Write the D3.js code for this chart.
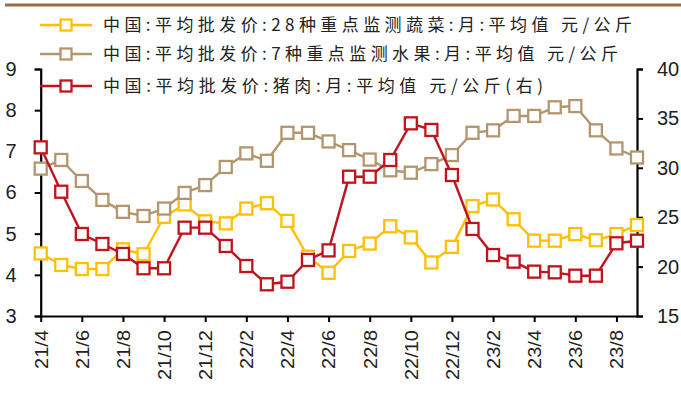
<!DOCTYPE html>
<html>
<head>
<meta charset="utf-8">
<script src="https://cdn.jsdelivr.net/npm/d3@7"></script>
<style>
  html, body { margin: 0; padding: 0; background: #fff; }
  svg { display: block; }
</style>
</head>
<body>
<svg id="chart" width="681" height="394"></svg>
<script>
// Monthly observations, 2021/4 – 2023/9
const months = ["21/4","21/5","21/6","21/7","21/8","21/9","21/10","21/11","21/12",
                "22/1","22/2","22/3","22/4","22/5","22/6","22/7","22/8","22/9","22/10","22/11","22/12",
                "23/1","23/2","23/3","23/4","23/5","23/6","23/7","23/8","23/9"];
const tickLabels = ["21/4","21/6","21/8","21/10","21/12","22/2","22/4","22/6","22/8","22/10","22/12","23/2","23/4","23/6","23/8"];

// 28 key vegetables, yuan/kg (left axis)
const vegetables = [4.52,4.24,4.14,4.14,4.62,4.50,5.41,5.71,5.30,5.25,5.61,5.74,5.31,4.44,4.05,
                    4.58,4.76,5.18,4.91,4.30,4.68,5.67,5.83,5.35,4.83,4.83,4.99,4.84,4.99,5.21];
// 7 key fruits, yuan/kg (left axis)
const fruits = [6.58,6.79,6.28,5.82,5.53,5.43,5.61,5.99,6.18,6.62,6.95,6.77,7.45,7.45,7.24,
                7.03,6.80,6.54,6.48,6.69,6.91,7.45,7.51,7.86,7.86,8.07,8.10,7.51,7.07,6.85];
// pork, yuan/kg (right axis)
const pork = [32.07,27.58,23.30,22.29,21.28,19.83,19.83,23.94,23.94,22.09,20.06,18.21,18.47,20.67,21.64,
              29.10,29.10,30.79,34.50,33.83,29.27,23.81,21.17,20.50,19.49,19.42,19.08,19.08,22.36,22.62];

const leftTicks = [3,4,5,6,7,8,9];
const rightTicks = [15,20,25,30,35,40];

const seriesNames = [
  "中国:平均批发价:28种重点监测蔬菜:月:平均值 元/公斤",
  "中国:平均批发价:7种重点监测水果:月:平均值 元/公斤",
  "中国:平均批发价:猪肉:月:平均值 元/公斤(右)"
];
const colors = ["#FFC000", "#B4966E", "#C0141C"];

const svg = d3.select("#chart");
const font = "'Liberation Sans', Arial, sans-serif";

const plot = { left: 40.7, right: 637, top: 69, bottom: 316 };

const x = d3.scalePoint().domain(months).range([plot.left, plot.right]);
const yL = d3.scaleLinear().domain([3, 9]).range([plot.bottom, plot.top]);
const yR = d3.scaleLinear().domain([15, 40]).range([plot.bottom, plot.top]);

// header rule
svg.append("rect").attr("x", 5).attr("y", 3.5).attr("width", 676).attr("height", 3).attr("fill", "#9C6B3E");

// axes
function styleAxis(g) {
  g.selectAll("path.domain").attr("stroke", "#000").attr("stroke-width", 2.2);
  g.selectAll(".tick line").attr("stroke", "#000").attr("stroke-width", 2);
  g.selectAll("text").attr("fill", "#222").style("font-family", font).style("font-size", "20px");
}

const gx = svg.append("g").attr("transform", `translate(0,${plot.bottom})`)
  .call(d3.axisBottom(x).tickValues(tickLabels).tickSize(6).tickSizeOuter(0).tickPadding(8));
gx.call(styleAxis);
gx.selectAll(".tick text")
  .attr("text-anchor", "end")
  .attr("x", 0).attr("y", 0).attr("dy", "0.35em")
  .attr("transform", "translate(0,14) scale(0.9,1) rotate(-90)");

const gl = svg.append("g").attr("transform", `translate(${plot.left},0)`)
  .call(d3.axisLeft(yL).tickValues(leftTicks).tickFormat(d3.format("d")).tickSize(6).tickSizeOuter(6).tickPadding(18));
gl.call(styleAxis);

const gr = svg.append("g").attr("transform", `translate(${plot.right},0)`)
  .call(d3.axisRight(yR).tickValues(rightTicks).tickFormat(d3.format("d")).tickSize(6).tickSizeOuter(6).tickPadding(14));
gr.call(styleAxis);

// series
const series = [
  { values: vegetables, y: yL, color: colors[0] },
  { values: fruits, y: yL, color: colors[1] },
  { values: pork, y: yR, color: colors[2] }
];
const msize = 12;

series.forEach(s => {
  const pts = s.values.map((v, i) => [x(months[i]), s.y(v)]);
  const g = svg.append("g");
  g.append("path")
    .attr("d", d3.line()(pts))
    .attr("fill", "none").attr("stroke", s.color).attr("stroke-width", 2.4)
    .attr("stroke-linejoin", "round");
  g.selectAll("rect").data(pts).join("rect")
    .attr("x", d => d[0] - msize / 2).attr("y", d => d[1] - msize / 2)
    .attr("width", msize).attr("height", msize)
    .attr("fill", "#fff").attr("stroke", s.color).attr("stroke-width", 2.3);
});

// legend
const legendRows = [25, 54, 86];
const legendWidths = [529, 515, 440];
seriesNames.forEach((name, i) => {
  const g = svg.append("g").attr("transform", `translate(0,${legendRows[i]})`);
  g.append("line").attr("x1", 40).attr("x2", 92).attr("y1", 0).attr("y2", 0)
    .attr("stroke", colors[i]).attr("stroke-width", 2.4);
  g.append("rect").attr("x", 66 - 5.5).attr("y", -5.5).attr("width", 11).attr("height", 11)
    .attr("fill", "#fff").attr("stroke", colors[i]).attr("stroke-width", 2.3);
  g.append("text").attr("x", 103).attr("y", 0).attr("dy", "0.36em")
    .attr("textLength", legendWidths[i]).attr("lengthAdjust", "spacing")
    .style("font-family", "'Noto Sans CJK SC', sans-serif").style("font-size", "17px")
    .attr("fill", "#222").text(name);
});
</script>
</body>
</html>
